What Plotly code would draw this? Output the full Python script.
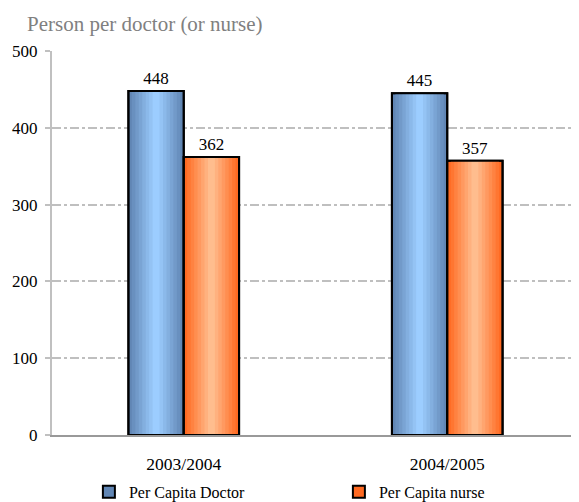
import plotly.graph_objects as go

years = ["2003/2004", "2004/2005"]
doctor = [448, 445]
nurse = [362, 357]
y_ticks = [0, 100, 200, 300, 400, 500]

serif = "Liberation Serif, Times New Roman, serif"

BAR_W = 0.21   # width of one bar in category units
LAYERS = 8     # steps used to fake the horizontal gradient


def mix(c1, c2, t):
    a = [int(c1[i:i + 2], 16) for i in (1, 3, 5)]
    b = [int(c2[i:i + 2], 16) for i in (1, 3, 5)]
    return "#" + "".join("%02x" % round(a[k] + (b[k] - a[k]) * t) for k in range(3))


def add_series(fig, name, values, offset, edge, centre):
    # full bar in the edge colour, then narrower lighter bars on top
    for k in range(LAYERS):
        w = BAR_W * (1 - k / LAYERS)
        fig.add_trace(go.Bar(
            name=name, x=years, y=values, width=w,
            offset=offset + (BAR_W - w) / 2,
            marker=dict(color=mix(edge, centre, k / (LAYERS - 1)),
                        line=dict(color="black", width=2 if k == 0 else 0)),
            showlegend=(k == 0), hoverinfo="skip"))
    # outline and value label on top
    fig.add_trace(go.Bar(
        name=name, x=years, y=values, width=BAR_W, offset=offset,
        marker=dict(color="rgba(0,0,0,0)", line=dict(color="black", width=2)),
        text=values, textposition="outside", cliponaxis=False,
        textfont=dict(color="black", size=17, family=serif),
        showlegend=False))


fig = go.Figure()
add_series(fig, "Per Capita Doctor", doctor, -BAR_W, "#6186b4", "#9ccdff")
add_series(fig, "Per Capita nurse", nurse, 0, "#ff6a22", "#ffbd8e")

# the page body adds an 8px offset, so the figure is 8px smaller each way
fig.update_layout(
    width=571, height=494,
    margin=dict(l=44, r=0, t=43, b=67, autoexpand=False),
    paper_bgcolor="white", plot_bgcolor="white",
    barmode="overlay",
    font=dict(family=serif, color="black", size=17),
    title=dict(text="Person per doctor (or nurse)", x=19 / 571, xanchor="left",
               xref="container", yref="container", y=1 - 16 / 494, yanchor="middle",
               pad=dict(l=0, r=0, t=0, b=0),
               font=dict(family=serif, size=21, color="#808080")),
    showlegend=True,
    legend=dict(orientation="h", x=0.07, xanchor="left", y=-0.148, yanchor="middle",
                entrywidth=205, entrywidthmode="pixels", bgcolor="rgba(0,0,0,0)",
                font=dict(family=serif, size=16, color="black")),
)
fig.update_yaxes(range=[0, 500], tickvals=y_ticks, showgrid=True,
                 gridcolor="#bfbfbf", griddash="dashdot", gridwidth=2,
                 showline=True, linecolor="#c0c0c0", linewidth=2,
                 ticks="outside", ticklen=5, tickcolor="#c0c0c0", tickwidth=2,
                 ticklabelstandoff=4, automargin=False,
                 zeroline=False, tickfont=dict(size=17))
fig.update_xaxes(showline=True, linecolor="#999999", linewidth=2,
                 ticks="", showgrid=False, ticklabelstandoff=12, automargin=False,
                 tickfont=dict(size=17.5))

fig.write_html("out.html")
